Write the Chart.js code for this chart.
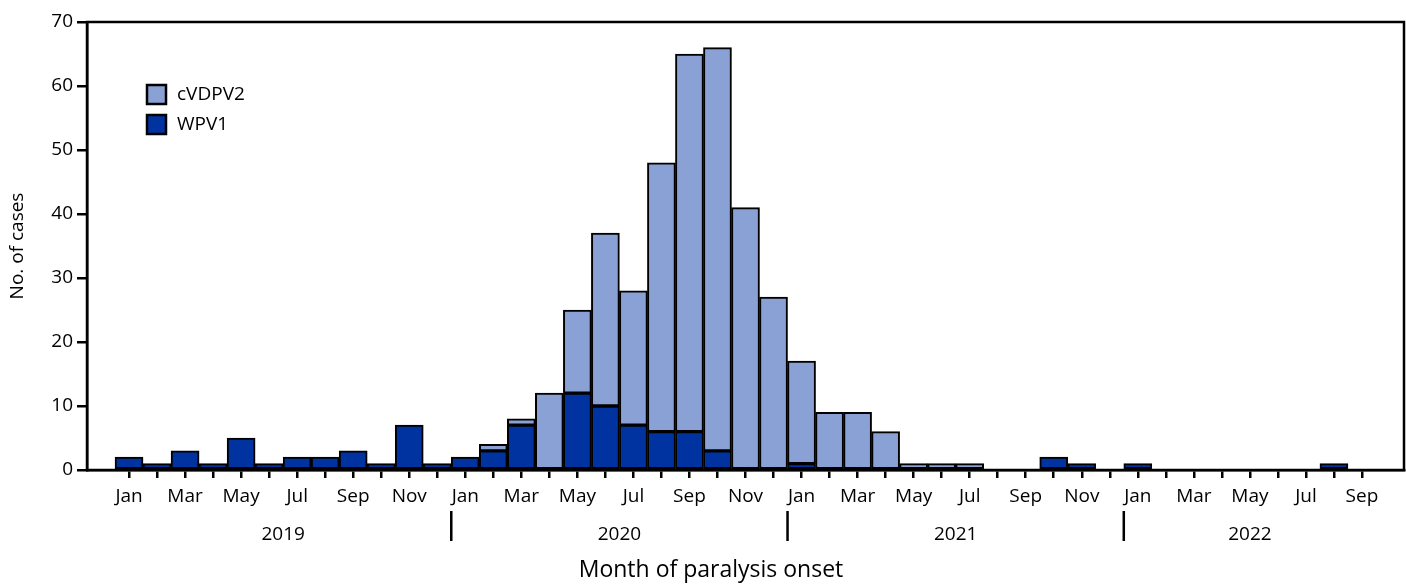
<!DOCTYPE html>
<html>
<head>
<meta charset="utf-8">
<script src="https://cdn.jsdelivr.net/npm/chart.js@4"></script>
<style>
  html, body { margin: 0; padding: 0; background: #fff; }
  #wrap { width: 1406px; height: 585px; }
</style>
</head>
<body>
<div id="wrap"><canvas id="myChart"></canvas></div>
<script>
const monthNames = ['Jan','Feb','Mar','Apr','May','Jun','Jul','Aug','Sep','Oct','Nov','Dec'];
const years = [2019, 2020, 2021, 2022];
const monthsInYear = [12, 12, 12, 9];

// cases per month, Jan 2019 .. Sep 2022
const wpv1 = [
    2, 1, 3, 1, 5, 1, 2, 2, 3, 1, 7, 1,
    2, 3, 7, 0, 12, 10, 7, 6, 6, 3, 0, 0,
    1, 0, 0, 0, 0, 0, 0, 0, 0, 2, 1, 0,
    1, 0, 0, 0, 0, 0, 0, 1, 0
];
const cvdpv2 = [
    0, 0, 0, 0, 0, 0, 0, 0, 0, 0, 0, 0,
    0, 1, 1, 12, 13, 27, 21, 42, 59, 63, 41, 27,
    16, 9, 9, 6, 1, 1, 1, 0, 0, 0, 0, 0,
    0, 0, 0, 0, 0, 0, 0, 0, 0
];
const yTicks = [0, 10, 20, 30, 40, 50, 60, 70];

const FONT = "'Open Sans', sans-serif";
const LIGHT = '#8aa1d5';
const DARK = '#0033a0';

// category list with one empty slot each side
let labels = [''];
years.forEach((y, i) => {
    for (let m = 0; m < monthsInYear[i]; m++) labels.push(monthNames[m] + ' ' + y);
});
labels.push('');

const pad = (arr) => [null].concat(arr.map(v => v === 0 ? null : v)).concat([null]);

const frame = {
    id: 'frame',
    afterDraw(chart) {
        const c = chart.ctx, a = chart.chartArea;
        const xs = chart.scales.x;
        c.save();
        c.strokeStyle = '#000';
        c.lineWidth = 2.5;
        c.strokeRect(a.left, a.top, a.right - a.left, a.bottom - a.top);

        // year labels and separators
        c.fillStyle = '#000';
        c.font = '19px ' + FONT;
        c.textAlign = 'center';
        c.textBaseline = 'middle';
        let start = 1;
        years.forEach((y, i) => {
            const end = start + monthsInYear[i] - 1;
            const mid = (xs.getPixelForValue(start) + xs.getPixelForValue(end)) / 2;
            c.fillText(String(y), mid, 535);
            if (i > 0) {
                const sep = (xs.getPixelForValue(start - 1) + xs.getPixelForValue(start)) / 2;
                c.lineWidth = 2.5;
                c.beginPath();
                c.moveTo(sep, 511);
                c.lineTo(sep, 541);
                c.stroke();
            }
            start = end + 1;
        });

        // axis titles
        c.font = '23px ' + FONT;
        c.fillText('Month of paralysis onset', 711, 570);
        c.save();
        c.translate(18, 246);
        c.rotate(-Math.PI / 2);
        c.font = '19px ' + FONT;
        c.fillText('No. of cases', 0, 0);
        c.restore();

        // legend
        const items = [['cVDPV2', LIGHT], ['WPV1', DARK]];
        c.textAlign = 'left';
        c.font = '19px ' + FONT;
        items.forEach((it, i) => {
            const y0 = 85 + i * 30;
            c.fillStyle = it[1];
            c.fillRect(147, y0, 19, 19);
            c.lineWidth = 2.5;
            c.strokeStyle = '#000';
            c.strokeRect(147, y0, 19, 19);
            c.fillStyle = '#000';
            c.fillText(it[0], 177, y0 + 10);
        });
        c.restore();
    }
};

const ctx = document.getElementById('myChart').getContext('2d');
const chart = new Chart(ctx, {
    type: 'bar',
    data: {
        labels: labels,
        datasets: [{
            label: 'WPV1',
            data: pad(wpv1),
            backgroundColor: DARK,
            borderColor: '#000',
            borderWidth: 2,
            borderSkipped: false,
            categoryPercentage: 1,
            barPercentage: 1
        }, {
            label: 'cVDPV2',
            data: pad(cvdpv2),
            backgroundColor: LIGHT,
            borderColor: '#000',
            borderWidth: 2,
            borderSkipped: false,
            categoryPercentage: 1,
            barPercentage: 1
        }]
    },
    options: {
        responsive: true,
        maintainAspectRatio: false,
        animation: false,
        layout: { padding: { top: 22, right: 2, left: 0, bottom: 0 } },
        plugins: {
            legend: { display: false },
            tooltip: { enabled: false }
        },
        scales: {
            x: {
                stacked: true,
                afterFit: (s) => { s.height = 115; },
                border: { display: true, color: '#000', width: 2.5 },
                grid: {
                    offset: false,
                    drawOnChartArea: false,
                    drawTicks: true,
                    tickLength: 8,
                    lineWidth: 2.5,
                    color: (c) => (c.index === 0 || c.index === labels.length - 1) ? 'rgba(0,0,0,0)' : '#000'
                },
                ticks: {
                    autoSkip: false,
                    maxRotation: 0,
                    padding: 7,
                    color: '#000',
                    font: { family: FONT, size: 19 },
                    callback: function(v, i) {
                        const l = labels[i];
                        if (!l) return '';
                        const m = monthNames.indexOf(l.split(' ')[0]);
                        return m % 2 === 0 ? l.split(' ')[0] : '';
                    }
                }
            },
            y: {
                stacked: true,
                min: 0,
                max: 70,
                afterFit: (s) => { s.width = 87; },
                afterBuildTicks: (s) => { s.ticks = yTicks.map(v => ({ value: v })); },
                border: { display: true, color: '#000', width: 2.5 },
                grid: {
                    drawOnChartArea: false,
                    drawTicks: true,
                    tickLength: 10,
                    lineWidth: 2.5,
                    color: '#000'
                },
                ticks: {
                    padding: 4,
                    color: '#000',
                    font: { family: FONT, size: 19 }
                }
            }
        }
    },
    plugins: [frame]
});
</script>
</body>
</html>
